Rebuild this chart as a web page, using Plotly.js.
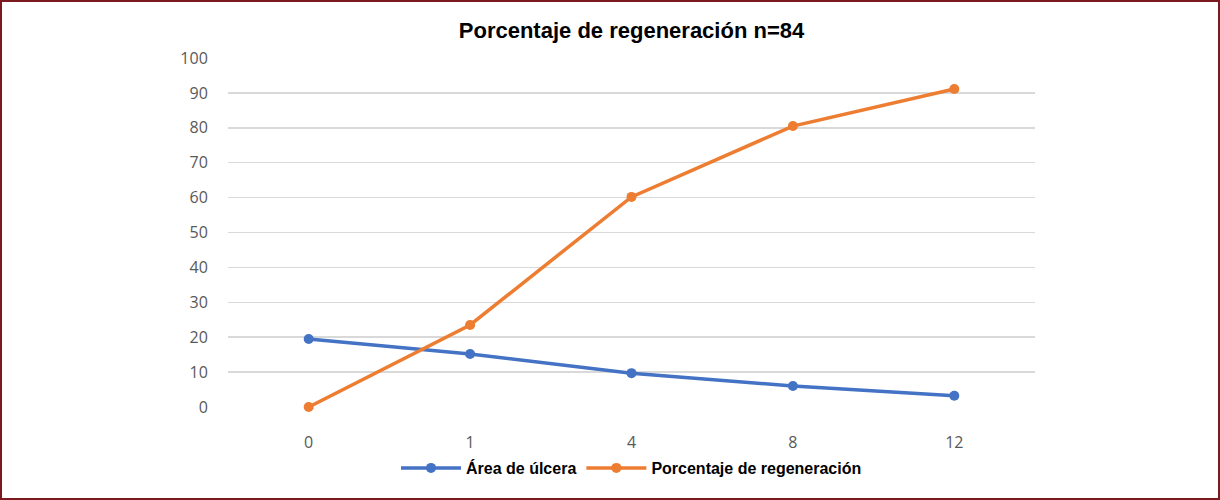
<!DOCTYPE html>
<html>
<head>
<meta charset="utf-8">
<script src="https://cdn.plot.ly/plotly-3.0.1.min.js"></script>
<style>
html,body{margin:0;padding:0;background:#fff;}
#chart{width:1220px;height:500px;}
#frame{position:absolute;left:0;top:0;width:1220px;height:500px;box-sizing:border-box;border:2px solid #7d1a1f;pointer-events:none;}
</style>
</head>
<body>
<div id="chart"></div>
<div id="frame"></div>
<script>
const categories = ["0", "1", "4", "8", "12"];
const areaUlcera = [19.5, 15.2, 9.7, 6.0, 3.2];
const porcentajeRegeneracion = [0, 23.5, 60.2, 80.5, 91.1];
const yTicks = [0, 10, 20, 30, 40, 50, 60, 70, 80, 90, 100];

const traces = [
  {
    x: categories, y: areaUlcera, name: "Área de úlcera",
    type: "scatter", mode: "lines+markers", cliponaxis: false,
    line: {color: "#4472C4", width: 3.5},
    marker: {color: "#4472C4", size: 10}
  },
  {
    x: categories, y: porcentajeRegeneracion, name: "Porcentaje de regeneración",
    type: "scatter", mode: "lines+markers", cliponaxis: false,
    line: {color: "#ED7D31", width: 3.5},
    marker: {color: "#ED7D31", size: 10}
  }
];

const layout = {
  width: 1220, height: 500,
  margin: {l: 228, r: 185, t: 58, b: 93},
  paper_bgcolor: "#fff", plot_bgcolor: "#fff",
  title: {
    text: "<b>Porcentaje de regeneración n=84</b>",
    font: {family: "Liberation Sans, Arial, sans-serif", size: 22, color: "#000"},
    x: 0.5, xref: "paper", xanchor: "center", y: 1 - 30/500, yref: "container", yanchor: "middle"
  },
  xaxis: {
    type: "category", range: [-0.5, 4.5],
    showgrid: false, zeroline: false, showline: false,
    ticks: "outside", ticklen: 21, tickcolor: "rgba(0,0,0,0)",
    tickfont: {family: "Open Sans, sans-serif", size: 16, color: "#595959"}
  },
  yaxis: {
    range: [0, 100], tickvals: yTicks, ticktext: yTicks.map(String),
    showgrid: true, gridcolor: "#d9d9d9", gridwidth: 1.5,
    zeroline: false, showline: false,
    ticks: "outside", ticklen: 16, tickcolor: "rgba(0,0,0,0)",
    tickfont: {family: "Open Sans, sans-serif", size: 16, color: "#595959"}
  },
  showlegend: true,
  legend: {
    orientation: "h", x: 0.5, xanchor: "center", y: -61/349, yanchor: "middle",
    font: {family: "Liberation Sans, Arial, sans-serif", size: 16, color: "#000", weight: "bold"},
    itemwidth: 60, tracegroupgap: 0
  }
};

Plotly.newPlot("chart", traces, layout, {displayModeBar: false, staticPlot: true});
</script>
</body>
</html>
